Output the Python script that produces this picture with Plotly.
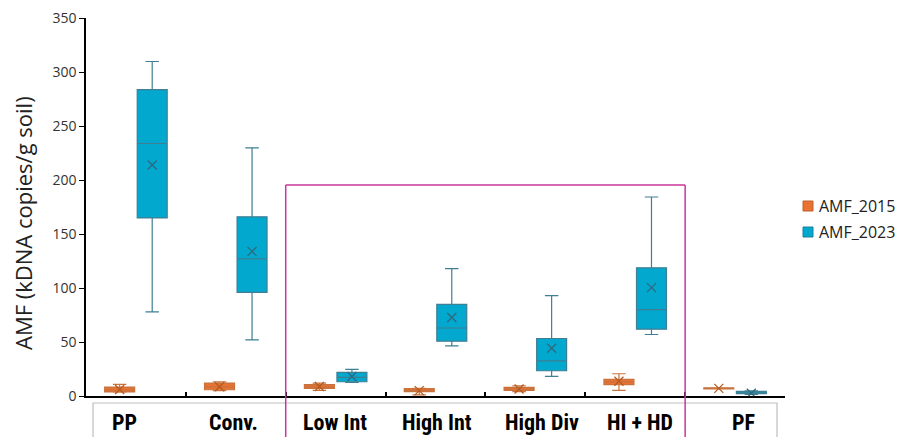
import numpy as np
import plotly.graph_objects as go

categories = ["PP", "Conv.", "Low Int", "High Int", "High Div", "HI + HD", "PF"]
series_names = ["AMF_2015", "AMF_2023"]
y_ticks = [0, 50, 100, 150, 200, 250, 300, 350]

amf2015_lower = [3.5, 5.0, 5.3, 1.0, 4.0, 5.3, 6.5]
amf2015_q1 = [3.8, 5.8, 7.1, 4.0, 5.3, 10.5, 6.5]
amf2015_median = [5.5, 8.5, 8.5, 5.2, 6.5, 13.0, 7.0]
amf2015_q3 = [8.3, 12.0, 10.5, 6.8, 8.0, 15.4, 7.6]
amf2015_upper = [10.8, 13.2, 12.0, 7.0, 9.5, 20.6, 7.6]
amf2015_mean = [6.0, 8.5, 8.8, 5.0, 6.5, 13.6, 7.1]

amf2023_lower = [78, 52, 12.6, 46.5, 18.2, 57, 1.5]
amf2023_q1 = [165, 96, 13.2, 50.8, 23.4, 61.9, 2.1]
amf2023_median = [234, 127, 17.3, 63, 32.6, 80, 3.0]
amf2023_q3 = [284, 166, 21.9, 85, 53.3, 118.8, 4.3]
amf2023_upper = [310, 230, 24.6, 118, 93, 184.4, 4.8]
amf2023_mean = [214, 134, 18.0, 72.7, 44.3, 100.4, 2.5]

# ---- layout constants ----
W, H = 898, 437
PL, PR, PT, PB = 86, 785, 18, 396       # plot area in window pixels


def px(wx):
    return (wx - PL) / (PR - PL)


def py(wy):
    return (PB - wy) / (PB - PT)


FONT = "Open Sans, DejaVu Sans, sans-serif"
LABEL_FONT = "Liberation Sans Narrow, Roboto Condensed, Liberation Sans, sans-serif"
ORANGE = "#E97132"
TEAL = "#02A8CE"
MAG = "#C8369A"
xpos = np.arange(len(categories))
off = 0.163
bw = 0.30
label_shift = [-11, -2, -1, 1, 7, 5, 8]

fig = go.Figure()

series = [
    (series_names[0], -off, ORANGE, "#C8733E", "#B85A1E", "#C0612A",
     amf2015_lower, amf2015_q1, amf2015_median, amf2015_q3, amf2015_upper, amf2015_mean),
    (series_names[1], off, TEAL, "#3F7E93", "#2D6A80", "#1D7F9C",
     amf2023_lower, amf2023_q1, amf2023_median, amf2023_q3, amf2023_upper, amf2023_mean),
]

shapes = []
annotations = []

for k, (name, o, fill, line, mcol, lcol, lo, q1, md, q3, up, mn) in enumerate(series):
    fig.add_trace(go.Box(
        x=xpos + o, q1=q1, median=md, q3=q3, lowerfence=lo, upperfence=up,
        width=bw, fillcolor=fill, line=dict(color=line, width=1.2),
        whiskerwidth=0.45, boxpoints=False, showlegend=False, name=name,
        hoverinfo="skip",
    ))
    fig.add_trace(go.Scatter(
        x=xpos + o, y=mn, mode="markers",
        marker=dict(symbol="x-thin", size=9, line=dict(color=mcol, width=1.3)),
        showlegend=False, hoverinfo="skip",
    ))
    # legend key (drawn by hand to match the reference spacing)
    cy = 206 + 26 * k
    shapes.append(dict(type="rect", xref="paper", yref="paper",
                       x0=px(803), x1=px(813), y0=py(cy + 5), y1=py(cy - 5),
                       fillcolor=fill, line=dict(color=lcol, width=1)))
    annotations.append(dict(x=px(817), y=py(cy), xref="paper", yref="paper",
                            text=name, showarrow=False, xanchor="left", yanchor="middle",
                            font=dict(family=FONT, size=16, color="#222222")))

# category labels
for i, c in enumerate(categories):
    annotations.append(dict(x=i, y=py(422), xref="x", yref="paper", text="<b>%s</b>" % c,
                            showarrow=False, xshift=label_shift[i], yanchor="middle",
                            font=dict(family=LABEL_FONT, size=22, color="#000000")))

# y-axis title
annotations.append(dict(x=px(23), y=py(223), xref="paper", yref="paper",
                        text="AMF (kDNA copies/g soil)", textangle=-90, showarrow=False,
                        xanchor="center", yanchor="middle",
                        font=dict(family=FONT, size=22, color="#222222")))

shapes += [
    # label frame
    dict(type="rect", xref="paper", yref="paper", x0=px(93), x1=px(777), y0=py(403), y1=py(470),
         line=dict(color="#BFBFBF", width=1.2), fillcolor="rgba(0,0,0,0)", layer="below"),
    # magenta frame
    dict(type="line", xref="x", yref="paper", x0=1.5, x1=5.5, y0=py(185), y1=py(185),
         line=dict(color=MAG, width=1.5)),
    dict(type="line", xref="x", yref="paper", x0=1.5, x1=1.5, y0=py(185), y1=py(470),
         line=dict(color=MAG, width=1.5)),
    dict(type="line", xref="x", yref="paper", x0=5.5, x1=5.5, y0=py(185), y1=py(470),
         line=dict(color=MAG, width=1.5)),
]

fig.update_layout(
    width=W, height=H,
    margin=dict(l=PL, r=W - PR, t=PT, b=H - PB, autoexpand=False),
    paper_bgcolor="white", plot_bgcolor="white",
    font=dict(family=FONT, color="#333333"),
    shapes=shapes, annotations=annotations,
    showlegend=False,
    xaxis=dict(range=[-0.5, 6.5], tickvals=list(np.arange(-0.5, 7, 1.0)), ticktext=[""] * 8,
               ticks="inside", ticklen=4, tickwidth=1.5, tickcolor="black",
               showline=True, linecolor="black", linewidth=1.6, automargin=False,
               showgrid=False, zeroline=False, fixedrange=True),
    yaxis=dict(range=[0, 350.3], tickvals=y_ticks, ticktext=[str(v) for v in y_ticks],
               ticks="outside", ticklen=5, tickcolor="black",
               tickwidth=1.2, showline=True, linecolor="black", linewidth=1.6,
               showgrid=False, zeroline=False, automargin=False,
               tickfont=dict(family=FONT, size=14, color="#333333")),
)

fig.write_html(
    "out.html",
    config={"displayModeBar": False},
    post_script="document.body.style.margin='0';document.body.style.overflow='hidden';",
)
